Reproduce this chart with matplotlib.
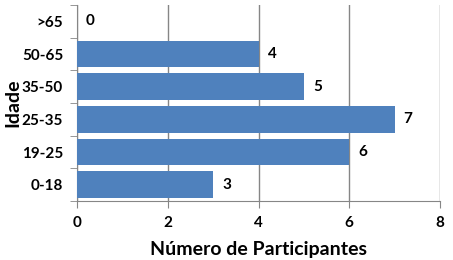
import numpy as np
import matplotlib.pyplot as plt

categorias = ["0-18", "19-25", "25-35", "35-50", "50-65", ">65"]
participantes = [3, 6, 7, 5, 4, 0]
xticks = [0, 2, 4, 6, 8]

plt.rcParams["font.family"] = ["Lato", "DejaVu Sans"]
plt.rcParams["font.weight"] = "bold"

fig = plt.figure(figsize=(4.53, 2.6), dpi=100)
ax = fig.add_axes([77 / 453, 1 - 201 / 260, (440 - 77) / 453, (201 - 5) / 260])

y = np.arange(len(categorias))
ax.barh(y, participantes, height=0.82, color="#4F81BD", zorder=3)
for yi, v in zip(y, participantes):
    ax.text(v + 0.2, yi, str(v), va="center", ha="left", fontsize=11, fontweight="bold")

ax.set_xlim(0, 8)
ax.set_ylim(-0.5, len(categorias) - 0.5)
ax.set_xticks(xticks)
ax.set_xticklabels([str(t) for t in xticks], fontsize=11, fontweight="bold")
ax.set_yticks(y)
ax.set_yticklabels(categorias, fontsize=11, fontweight="bold")
ax.set_yticks(np.arange(-0.5, len(categorias)), minor=True)
ax.tick_params(axis="y", which="major", length=0, pad=10)
ax.tick_params(axis="y", which="minor", length=5, color="#868686")
ax.tick_params(axis="x", length=5, color="#868686", pad=6)
ax.grid(axis="x", color="#868686", linewidth=1, zorder=0)

for s in ["top", "right"]:
    ax.spines[s].set_visible(False)
for s in ["left", "bottom"]:
    ax.spines[s].set_color("#868686")

ax.set_xlabel("Número de Participantes", fontsize=14, fontweight="bold", labelpad=8)
ax.set_ylabel("Idade", fontsize=14, fontweight="bold")
ax.yaxis.set_label_coords(-56 / 363, 0.5)

fig.savefig("out.png", dpi=100)
